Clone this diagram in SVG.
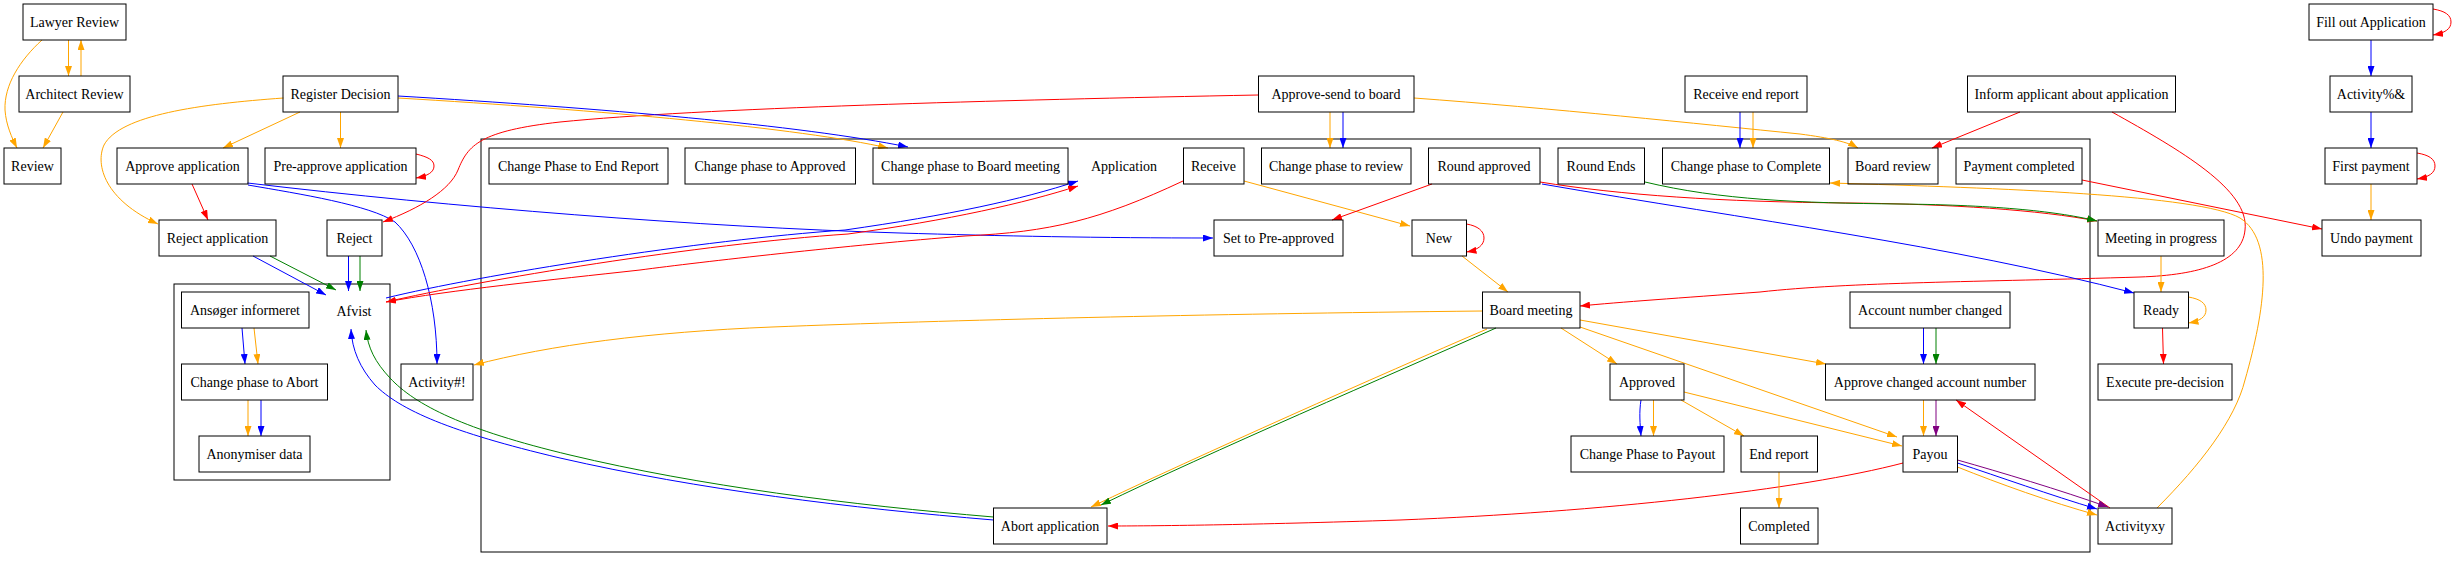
<svg xmlns="http://www.w3.org/2000/svg" width="2455" height="564" viewBox="0 0 2455 564">
<style>
.n rect{fill:none;stroke:#000;stroke-width:1}
.cl{fill:none;stroke:#000;stroke-width:1}
text{font-family:"Liberation Serif","Times New Roman",serif;font-size:14px;fill:#000;text-anchor:middle}
.e path{fill:none;stroke-width:1}
.o{stroke:#FFA500;marker-end:url(#mo)}
.r{stroke:#FF0000;marker-end:url(#mr)}
.b{stroke:#0000FF;marker-end:url(#mb)}
.g{stroke:#008000;marker-end:url(#mg)}
.p{stroke:#800080;marker-end:url(#mp)}
</style>
<defs>
<marker id="mo" markerUnits="userSpaceOnUse" markerWidth="10" markerHeight="7" refX="10" refY="3.5" orient="auto"><path d="M0,0 L10,3.5 L0,7 Z" fill="#FFA500"/></marker>
<marker id="mr" markerUnits="userSpaceOnUse" markerWidth="10" markerHeight="7" refX="10" refY="3.5" orient="auto"><path d="M0,0 L10,3.5 L0,7 Z" fill="#FF0000"/></marker>
<marker id="mb" markerUnits="userSpaceOnUse" markerWidth="10" markerHeight="7" refX="10" refY="3.5" orient="auto"><path d="M0,0 L10,3.5 L0,7 Z" fill="#0000FF"/></marker>
<marker id="mg" markerUnits="userSpaceOnUse" markerWidth="10" markerHeight="7" refX="10" refY="3.5" orient="auto"><path d="M0,0 L10,3.5 L0,7 Z" fill="#008000"/></marker>
<marker id="mp" markerUnits="userSpaceOnUse" markerWidth="10" markerHeight="7" refX="10" refY="3.5" orient="auto"><path d="M0,0 L10,3.5 L0,7 Z" fill="#800080"/></marker>
</defs>
<rect width="2455" height="564" fill="#fff"/>
<g id="clusters">
<rect class="cl" x="481" y="139" width="1609" height="413"/>
<rect class="cl" x="174" y="284" width="216" height="196"/>
</g>
<g id="edges" class="e">
<path class="o" d="M68.5,40 L68.5,76"/>
<path class="o" d="M81,76 L81,40"/>
<path class="o" d="M42,40 C20,60 4,85 5,110 C6,125 12,138 17,148"/>
<path class="o" d="M63,112 L43,148"/>
<path class="o" d="M300,112 L223,148"/>
<path class="o" d="M340.5,112 L340.5,148"/>
<path class="o" d="M283.5,98 C200,104 120,115 104,145 C95,165 105,200 158,224"/>
<path class="r" d="M416,154 C428,157 434,160 434,166 C434,172 428,176 416,178"/>
<path class="r" d="M192,184 L208,220"/>
<path class="b" d="M247.5,183 C450,207 700,227 900,233 C1000,236 1100,238 1213,238"/>
<path class="b" d="M248,185 C300,194 370,205 395,222 C420,245 437,300 437,364"/>
<path class="b" d="M253,256 L326,295"/>
<path class="g" d="M270,256 L336,290"/>
<path class="b" d="M348.5,256 L348.5,291"/>
<path class="g" d="M360,256 L360,291"/>
<path class="r" d="M1258,95 C1000,100 700,108 560,122 C480,131 468,145 458,170 C450,190 420,208 383,222"/>
<path class="b" d="M398,96 C600,108 800,125 908,147"/>
<path class="o" d="M398,98 C600,110 800,128 888,148"/>
<path class="b" d="M386,298 C480,275 700,240 845,230 C950,215 1020,200 1078,181"/>
<path class="r" d="M386,302 C480,280 700,244 848,234 C950,220 1025,203 1078,186"/>
<path class="r" d="M1183,181 C1100,220 1050,232 965,236 C850,245 700,262 640,270 C550,280 450,290 386,302"/>
<path class="o" d="M1244,181 L1410,226"/>
<path class="r" d="M1432,184 L1332,220"/>
<path class="r" d="M1466.5,224 C1478,226 1484,231 1484,238 C1484,245 1478,250 1466.5,252"/>
<path class="o" d="M1462,256 L1508,292"/>
<path class="o" d="M1330,112 L1330,148"/>
<path class="b" d="M1343,112 L1343,148"/>
<path class="o" d="M1414,98 C1550,108 1700,124 1800,134 C1830,138 1848,142 1858,148"/>
<path class="b" d="M1740,112 L1740,148"/>
<path class="o" d="M1753,112 L1753,148"/>
<path class="r" d="M2020,112 L1932,148"/>
<path class="r" d="M2112,112 C2180,150 2250,190 2245,230 C2242,262 2200,275 2140,277 C1980,282 1850,282 1760,292 C1680,298 1620,302 1580,306"/>
<path class="r" d="M2082,180 L2322,229"/>
<path class="o" d="M2157,508 C2200,465 2235,420 2245,380 C2265,310 2275,240 2240,218 C2200,195 2000,188 1830,183"/>
<path class="r" d="M1540,182 C1620,195 1720,202 1850,203 C1950,204 2040,210 2097,221"/>
<path class="g" d="M1645,182 C1720,200 1800,203 1900,204 C2000,205 2060,212 2097,221"/>
<path class="b" d="M1542,184 C1750,220 1950,245 2134,293"/>
<path class="o" d="M2161,256 L2161,292"/>
<path class="o" d="M2188.5,297 C2200,299 2206,303 2206,310 C2206,317 2200,321 2188.5,323"/>
<path class="r" d="M2162.5,328 L2163.5,364"/>
<path class="r" d="M2433,9 C2445,11 2451,15 2451,22 C2451,29 2445,33 2433,35"/>
<path class="b" d="M2371,40 L2371,76"/>
<path class="b" d="M2371,112 L2371,148"/>
<path class="r" d="M2417,153 C2429,155 2435,159 2435,166 C2435,173 2429,177 2417,179"/>
<path class="o" d="M2371,184 L2371,220"/>
<path class="b" d="M1923.5,328 L1923.5,364"/>
<path class="g" d="M1936,328 L1936,364"/>
<path class="o" d="M1923.5,400 L1923.5,436"/>
<path class="p" d="M1936,400 L1936,436"/>
<path class="r" d="M2110,508 L1956,400"/>
<path class="p" d="M1957.5,460 C2000,472 2060,490 2108,507"/>
<path class="b" d="M1957.5,463 C2000,477 2050,495 2097,509"/>
<path class="o" d="M1957.5,467 C2000,484 2050,502 2097,515"/>
<path class="r" d="M1903,463 C1800,490 1600,512 1400,520 C1250,525 1150,526 1108,526"/>
<path class="o" d="M1487,329 C1380,375 1200,455 1091,507"/>
<path class="g" d="M1496,328 C1390,375 1210,452 1101,505"/>
<path class="b" d="M993.5,520 C850,508 700,490 560,458 C450,432 400,410 375,385 C360,368 352,350 351,329"/>
<path class="g" d="M993.5,517 C850,505 700,486 570,455 C465,430 415,405 390,378 C375,362 368,348 366,330"/>
<path class="o" d="M1482.5,311 C1200,314 950,320 772,327 C650,332 550,345 474,365"/>
<path class="o" d="M1561,328 L1617,364"/>
<path class="o" d="M1580,320 L1826,364"/>
<path class="o" d="M1580,327 L1897,437"/>
<path class="b" d="M1641,400 C1639,412 1640,424 1641,436"/>
<path class="o" d="M1653.5,400 L1653.5,436"/>
<path class="o" d="M1681,400 L1744,436"/>
<path class="o" d="M1684,392 L1902,446"/>
<path class="o" d="M1779,472 L1779,508"/>
<path class="b" d="M242,328 L245,364"/>
<path class="o" d="M254,328 L258,364"/>
<path class="o" d="M248,400 L248,436"/>
<path class="b" d="M261,400 L261,436"/>
</g>
<g id="n_lawyer" class="n"><rect x="23" y="4" width="103" height="36"/><text x="74.5" y="26.5">Lawyer Review</text></g>
<g id="n_architect" class="n"><rect x="19" y="76" width="111" height="36"/><text x="74.5" y="98.5">Architect Review</text></g>
<g id="n_review" class="n"><rect x="4" y="148" width="57" height="36"/><text x="32.5" y="170.5">Review</text></g>
<g id="n_register" class="n"><rect x="283" y="76" width="115" height="36"/><text x="340.5" y="98.5">Register Decision</text></g>
<g id="n_approveapp" class="n"><rect x="117" y="148" width="131" height="36"/><text x="182.5" y="170.5">Approve application</text></g>
<g id="n_preapprove" class="n"><rect x="265" y="148" width="151" height="36"/><text x="340.5" y="170.5">Pre-approve application</text></g>
<g id="n_rejectapp" class="n"><rect x="159" y="220" width="117" height="36"/><text x="217.5" y="242.5">Reject application</text></g>
<g id="n_reject" class="n"><rect x="327" y="220" width="55" height="36"/><text x="354.5" y="242.5">Reject</text></g>
<g id="n_ansoger" class="n"><rect x="181.5" y="292" width="127.5" height="36"/><text x="245" y="314.5">Ansøger informeret</text></g>
<g id="n_afvist"><text x="354" y="315.5">Afvist</text></g>
<g id="n_abortphase" class="n"><rect x="181.5" y="364" width="146" height="36"/><text x="254.5" y="386.5">Change phase to Abort</text></g>
<g id="n_anonym" class="n"><rect x="199" y="436" width="111" height="36"/><text x="254.5" y="458.5">Anonymiser data</text></g>
<g id="n_activity1" class="n"><rect x="401" y="364" width="72" height="36"/><text x="437" y="386.5">Activity#!</text></g>
<g id="n_cpend" class="n"><rect x="489" y="148" width="179" height="36"/><text x="578.5" y="170.5">Change Phase to End Report</text></g>
<g id="n_cpapproved" class="n"><rect x="685" y="148" width="170.5" height="36"/><text x="770" y="170.5">Change phase to Approved</text></g>
<g id="n_cpboard" class="n"><rect x="873" y="148" width="195" height="36"/><text x="970.5" y="170.5">Change phase to Board meeting</text></g>
<g id="n_application"><text x="1124" y="170.5">Application</text></g>
<g id="n_approvesend" class="n"><rect x="1258.5" y="76" width="155.5" height="36"/><text x="1336" y="98.5">Approve-send to board</text></g>
<g id="n_receiveend" class="n"><rect x="1685" y="76" width="122" height="36"/><text x="1746" y="98.5">Receive end report</text></g>
<g id="n_receive" class="n"><rect x="1183.5" y="148" width="60.5" height="36"/><text x="1213.5" y="170.5">Receive</text></g>
<g id="n_cpreview" class="n"><rect x="1261.5" y="148" width="149.5" height="36"/><text x="1336" y="170.5">Change phase to review</text></g>
<g id="n_roundapproved" class="n"><rect x="1428.5" y="148" width="111.5" height="36"/><text x="1484" y="170.5">Round approved</text></g>
<g id="n_roundends" class="n"><rect x="1558" y="148" width="86.5" height="36"/><text x="1601" y="170.5">Round Ends</text></g>
<g id="n_cpcomplete" class="n"><rect x="1662.5" y="148" width="167" height="36"/><text x="1746" y="170.5">Change phase to Complete</text></g>
<g id="n_boardreview" class="n"><rect x="1848" y="148" width="90" height="36"/><text x="1893" y="170.5">Board review</text></g>
<g id="n_paymentcompleted" class="n"><rect x="1956" y="148" width="126" height="36"/><text x="2019" y="170.5">Payment completed</text></g>
<g id="n_inform" class="n"><rect x="1967.5" y="76" width="208" height="36"/><text x="2071.5" y="98.5">Inform applicant about application</text></g>
<g id="n_fillout" class="n"><rect x="2309" y="4" width="124" height="36"/><text x="2371" y="26.5">Fill out Application</text></g>
<g id="n_activitypct" class="n"><rect x="2330" y="76" width="82" height="36"/><text x="2371" y="98.5">Activity%&amp;</text></g>
<g id="n_firstpayment" class="n"><rect x="2325" y="148" width="92" height="36"/><text x="2371" y="170.5">First payment</text></g>
<g id="n_undopayment" class="n"><rect x="2322" y="220" width="99" height="36"/><text x="2371.5" y="242.5">Undo payment</text></g>
<g id="n_meeting" class="n"><rect x="2098" y="220" width="126" height="36"/><text x="2161" y="242.5">Meeting in progress</text></g>
<g id="n_setpre" class="n"><rect x="1214" y="220" width="129" height="36"/><text x="1278.5" y="242.5">Set to Pre-approved</text></g>
<g id="n_new" class="n"><rect x="1412" y="220" width="54.5" height="36"/><text x="1439" y="242.5">New</text></g>
<g id="n_boardmeeting" class="n"><rect x="1482.5" y="292" width="97.5" height="36"/><text x="1531" y="314.5">Board meeting</text></g>
<g id="n_accountchanged" class="n"><rect x="1850" y="292" width="160" height="36"/><text x="1930" y="314.5">Account number changed</text></g>
<g id="n_ready" class="n"><rect x="2134" y="292" width="54.5" height="36"/><text x="2161" y="314.5">Ready</text></g>
<g id="n_approvechanged" class="n"><rect x="1825.5" y="364" width="209.5" height="36"/><text x="1930" y="386.5">Approve changed account number</text></g>
<g id="n_approved" class="n"><rect x="1610" y="364" width="74" height="36"/><text x="1647" y="386.5">Approved</text></g>
<g id="n_execute" class="n"><rect x="2098" y="364" width="134" height="36"/><text x="2165" y="386.5">Execute pre-decision</text></g>
<g id="n_cppayout" class="n"><rect x="1571" y="436" width="153" height="36"/><text x="1647.5" y="458.5">Change Phase to Payout</text></g>
<g id="n_endreport" class="n"><rect x="1741" y="436" width="76.5" height="36"/><text x="1779" y="458.5">End report</text></g>
<g id="n_payou" class="n"><rect x="1903" y="436" width="54.5" height="36"/><text x="1930" y="458.5">Payou</text></g>
<g id="n_completed" class="n"><rect x="1740.5" y="508" width="77.5" height="36"/><text x="1779" y="530.5">Completed</text></g>
<g id="n_abortapp" class="n"><rect x="993.5" y="508" width="113.5" height="36"/><text x="1050" y="530.5">Abort application</text></g>
<g id="n_activityxy" class="n"><rect x="2098" y="508" width="74" height="36"/><text x="2135" y="530.5">Activityxy</text></g>
</svg>
